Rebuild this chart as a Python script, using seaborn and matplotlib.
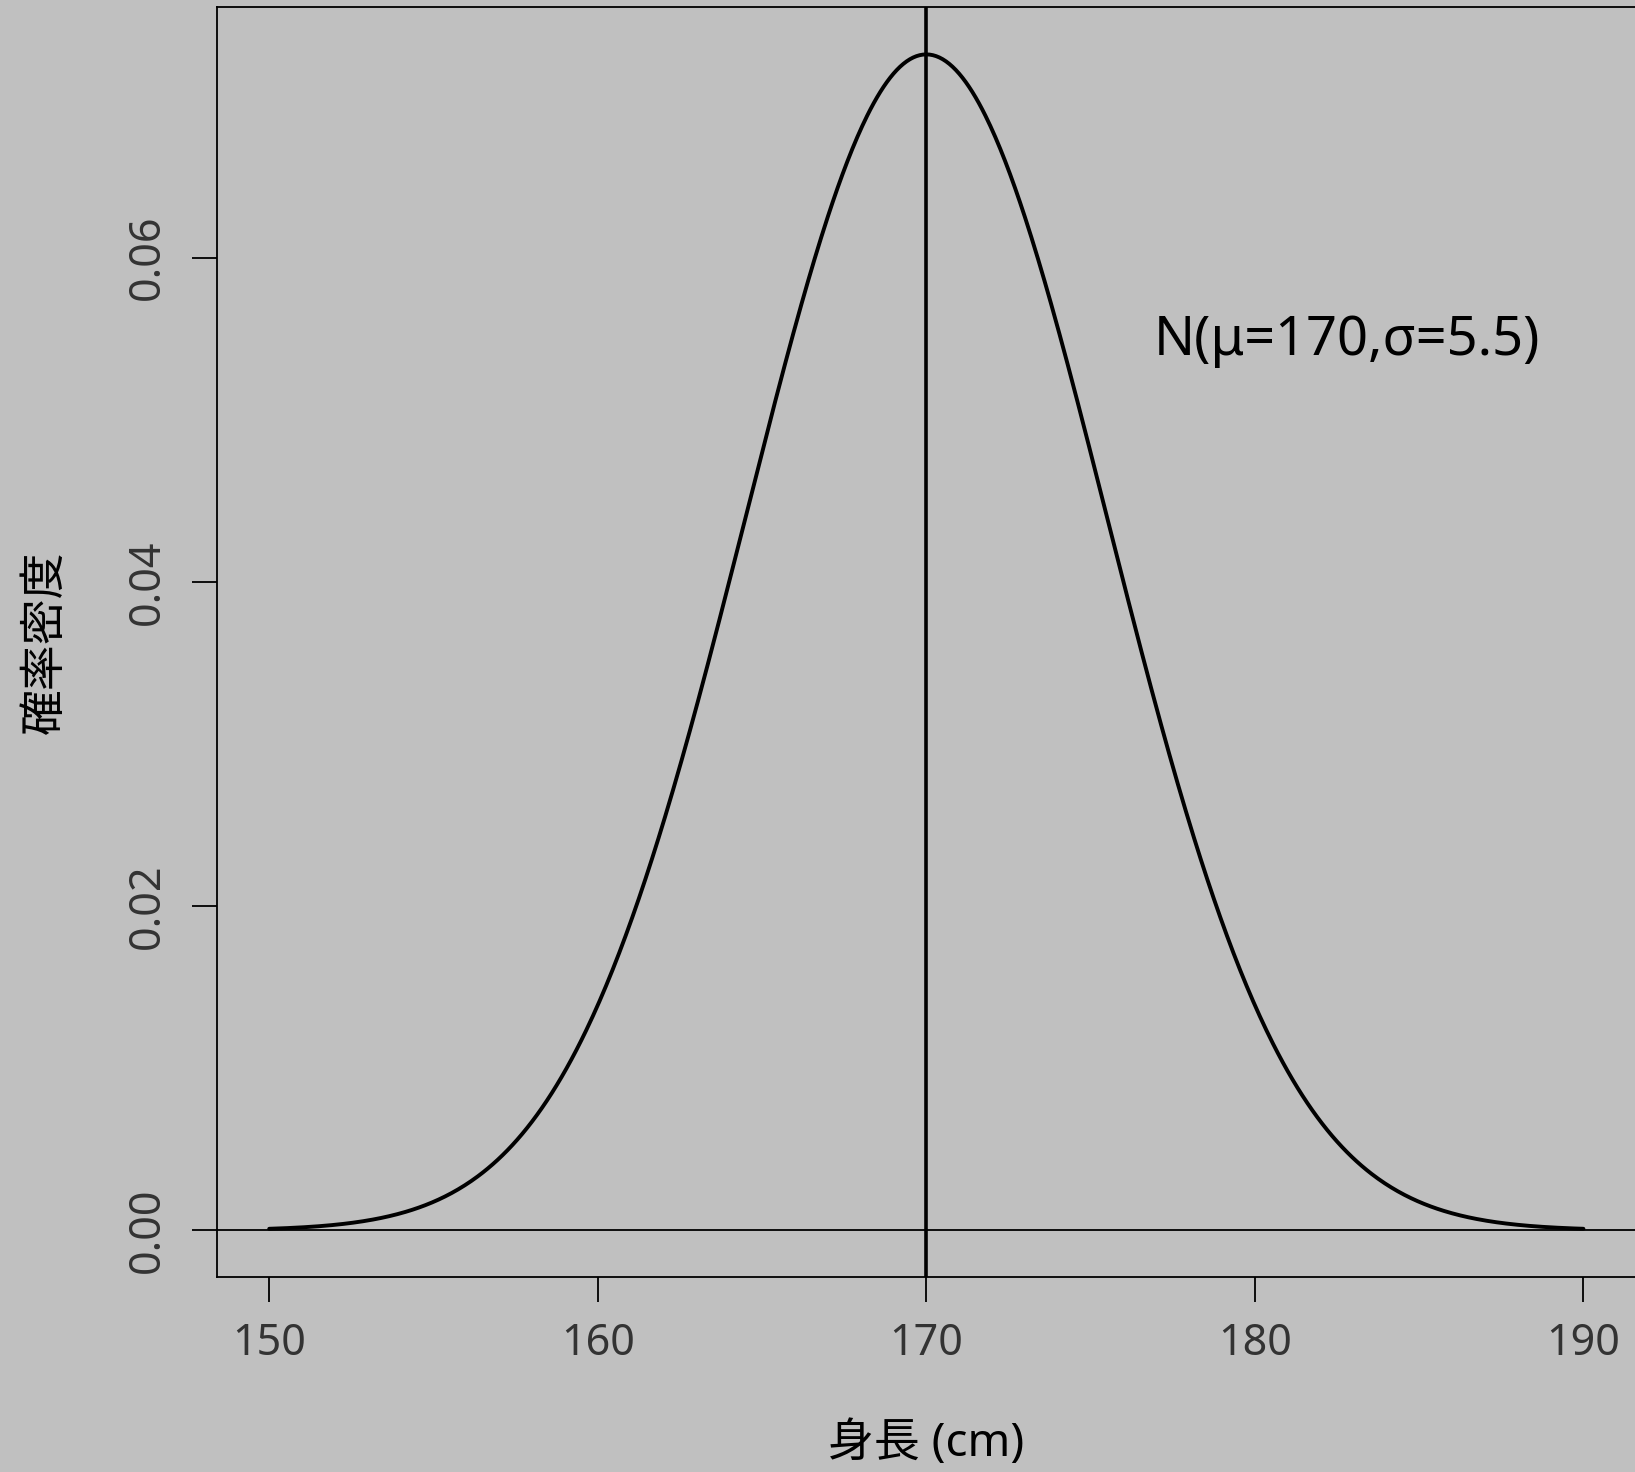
import numpy as np
import pandas as pd
import seaborn as sns
import matplotlib
matplotlib.use("Agg")
import matplotlib.pyplot as plt
from matplotlib.ticker import FormatStrFormatter

# Parameters of the height distribution
mu = 170.0
sigma = 5.5
x_range = [150, 190]
x_ticks = [150, 160, 170, 180, 190]
y_ticks = [0.00, 0.02, 0.04, 0.06]
x_label = "身長 (cm)"
y_label = "確率密度"
note = "N(μ=170,σ=5.5)"

# Density curve of N(mu, sigma)
xs = np.linspace(x_range[0], x_range[1], 801)
dens = np.exp(-0.5 * ((xs - mu) / sigma) ** 2) / (sigma * np.sqrt(2 * np.pi))
df = pd.DataFrame({"height": xs, "density": dens})

bg = "#C0C0C0"
sns.set_theme(style="ticks", rc={
    "figure.facecolor": bg,
    "axes.facecolor": bg,
    "axes.edgecolor": "black",
    "axes.linewidth": 1.3,
    "xtick.major.size": 18,
    "ytick.major.size": 18,
    "xtick.major.width": 1.3,
    "ytick.major.width": 1.3,
    "xtick.color": "black",
    "ytick.color": "black",
})
plt.rcParams["font.family"] = ["Noto Sans", "Noto Sans CJK JP", "DejaVu Sans"]

fig = plt.figure(figsize=(16.35, 14.72), dpi=100)
ax_bottom = 0.1322
ax_top = 0.995
ax_left = 0.1325
ax_right = 1.0006
ax = fig.add_axes([ax_left, ax_bottom, ax_right - ax_left, ax_top - ax_bottom])

sns.lineplot(data=df, x="height", y="density", ax=ax, color="black",
             linewidth=2.8)
ax.axvline(mu, color="black", linewidth=2.6)
ax.axhline(0, color="black", linewidth=1.3)

ymax = dens.max()
span = x_range[1] - x_range[0]
ax.set_xlim(x_range[0] - 0.04 * span, x_range[1] + 0.04 * span)
ax.set_ylim(-0.04 * ymax, 1.04 * ymax)

ax.set_xticks(x_ticks)
ax.set_yticks(y_ticks)
ax.yaxis.set_major_formatter(FormatStrFormatter("%.2f"))
ax.tick_params(axis="both", direction="out", labelsize=31, labelcolor="#333333")
ax.tick_params(axis="x", pad=14)
ax.tick_params(axis="y", pad=16)
for lab in ax.get_yticklabels():
    lab.set_rotation(90)
    lab.set_va("center")
    lab.set_fontweight("light")
for lab in ax.get_xticklabels():
    lab.set_fontweight("light")

for s in ax.spines.values():
    s.set_visible(True)

ax.set_xlabel(x_label, fontsize=33, color="black")
ax.set_ylabel(y_label, fontsize=33, color="black")
ax.xaxis.set_label_coords(0.5, (1472 - 1444 - 1472 * ax_bottom) / (1472 * (ax_top - ax_bottom)))
ax.yaxis.set_label_coords((46 - 216.7) / (1635 * (ax_right - ax_left)), 0.5)
ax.xaxis.label.set_va("center")
ax.yaxis.label.set_va("center")

ax.text(182.8, 0.0549, note, fontsize=39, ha="center", va="center", color="black")

fig.savefig("out.png", dpi=100, facecolor=bg)
